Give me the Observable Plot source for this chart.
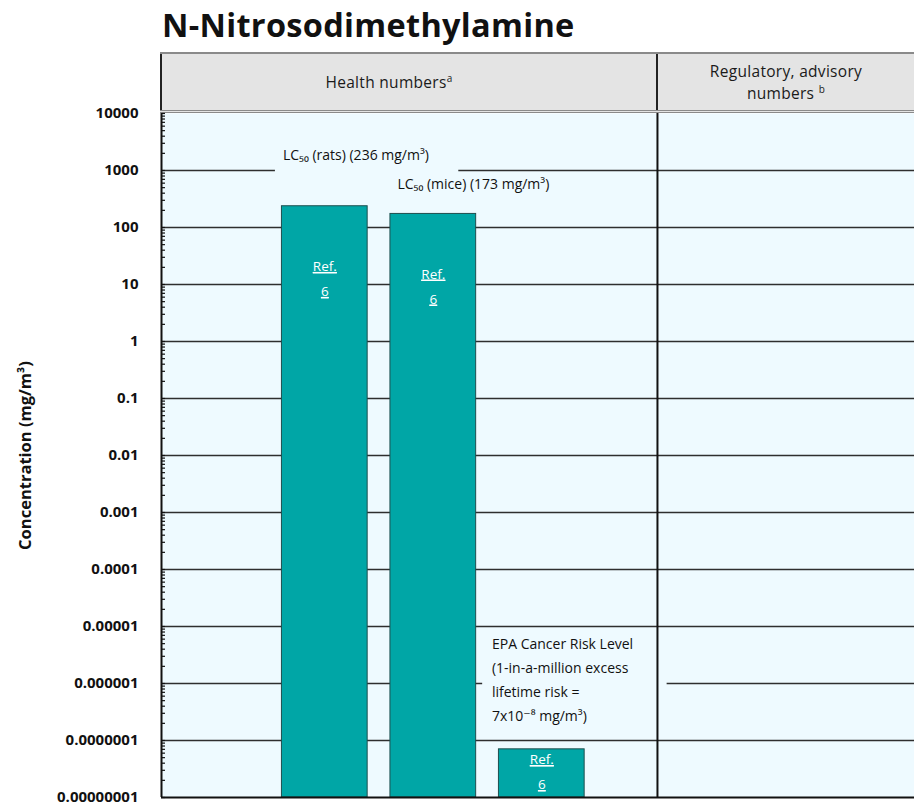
<!DOCTYPE html>
<html><head><meta charset="utf-8">
<script src="https://cdn.jsdelivr.net/npm/d3@7"></script>
<script src="https://cdn.jsdelivr.net/npm/@observablehq/plot@0.6"></script>
<style>
*{box-sizing:border-box;}
body{margin:0;background:#fff;font-family:"Open Sans","DejaVu Sans",sans-serif;}
#wrap{position:relative;width:914px;height:805px;overflow:hidden;}
#title{position:absolute;left:162px;top:2px;font-weight:700;font-size:32.5px;color:#111;white-space:nowrap;letter-spacing:0.3px;}
#header{position:absolute;left:160px;top:52px;width:754px;height:61px;background:#e4e4e4;border-top:2px solid #8a8a8a;border-bottom:3px double #8a8a8a;display:flex;}
.cell{display:flex;align-items:center;justify-content:center;text-align:center;font-size:15.5px;color:#1a1a1a;line-height:1.45;letter-spacing:0.3px;}
.cell sup{font-size:10px;vertical-align:super;line-height:0;}
#h1{width:498px;border-left:2px solid #222;border-right:2px solid #222;padding-right:40px;}
#h2{flex:1;padding:0 10px;}
#chart{position:absolute;left:0;top:113px;}
</style>
</head><body>
<div id="wrap">
  <div id="title"></div>
  <div id="header"><div class="cell" id="h1"></div><div class="cell" id="h2"></div></div>
  <div id="chart"></div>
</div>
<script>
// ---- data ----
const chartTitle = "N-Nitrosodimethylamine";
const columnHeaders = ["Health numbers", "Regulatory, advisory numbers"];
const columnNotes = ["a", "b"];
const categories = ["LC50 (rats)", "LC50 (mice)", "EPA Cancer Risk Level"];
const values = [236, 173, 7e-8];
const refLabels = ["Ref.\n6", "Ref.\n6", "Ref.\n6"];
const annotations = [
  "LC₅₀ (rats) (236 mg/m³)",
  "LC₅₀ (mice) (173 mg/m³)",
  "EPA Cancer Risk Level\n(1-in-a-million excess\nlifetime risk =\n7x10⁻⁸ mg/m³)"
];
const tickLabels = ["10000","1000","100","10","1","0.1","0.01","0.001","0.0001","0.00001","0.000001","0.0000001","0.00000001"];
const yTitle = "Concentration (mg/m³)";

// ---- layout (positions / styles) ----
const layout = {
  xMax: 6.94, divider: 4.571, barStart: 0.11, barEnd: 0.9,
  annDx: [1, 7, -7], annDy: [-54, -33, -72],
  refDyTall: 47, refDyShort: -3, minorTickPx: 4,
  backdrops: [
    {x1: 1.05, x2: 2.74, y1: 370, y2: 2750},
    {x1: 2.96, x2: 4.66, y1: 2.0e-7, y2: 7.5e-6}
  ]
};
const bg = "#eefaff";
const teal = "#00a6a6";
const W = 914, ML = 161;

document.getElementById("title").textContent = chartTitle;
document.getElementById("h1").innerHTML = "<span>" + columnHeaders[0] + "<sup>" + columnNotes[0] + "</sup></span>";
const h2words = columnHeaders[1].split(" ");
document.getElementById("h2").innerHTML = "<span>" + h2words.slice(0, 2).join(" ") + "<br>" + h2words.slice(2).join(" ") + " <sup>" + columnNotes[1] + "</sup></span>";

const tickValues = tickLabels.map(Number);
const labelOf = new Map(tickValues.map((v, i) => [v, tickLabels[i]]));
const yMin = d3.min(tickValues), yMax = d3.max(tickValues);
const gridValues = tickValues.filter(v => v !== yMin && v !== yMax);
const minorTicks = [];
for (let e = Math.round(Math.log10(yMin)); e < Math.round(Math.log10(yMax)); e++) for (let m = 1; m < 10; m++) minorTicks.push(m * Math.pow(10, e));
minorTicks.push(yMax);
const tickLenX = layout.minorTickPx * layout.xMax / (W - ML);

const bars = categories.map((c, i) => ({category: c, value: values[i], slot: i + 1, ref: refLabels[i], note: annotations[i], i}));
const tall = bars.filter(d => Math.log10(d.value / yMin) > 3);
const short = bars.filter(d => Math.log10(d.value / yMin) <= 3);

const chart = Plot.plot({
  width: W, height: 692,
  marginLeft: ML, marginRight: 0, marginTop: 0, marginBottom: 8,
  style: {fontFamily: "'Open Sans','DejaVu Sans',sans-serif", overflow: "visible", background: "transparent", color: "#111"},
  x: {domain: [0, layout.xMax], axis: null},
  y: {type: "log", domain: [yMin, yMax], axis: null},
  marks: [
    Plot.frame({fill: bg, stroke: "none"}),
    Plot.ruleY(gridValues, {stroke: "#2e2e2e", strokeWidth: 1.4}),
    Plot.rect(layout.backdrops, {x1: "x1", x2: "x2", y1: "y1", y2: "y2", fill: bg}),
    Plot.ruleX([layout.divider], {stroke: "#111", strokeWidth: 2}),
    Plot.rect(bars, {x1: d => d.slot + layout.barStart, x2: d => d.slot + layout.barEnd, y1: yMin, y2: "value", fill: teal, stroke: "#1e4e4e", strokeWidth: 1}),
    Plot.text(tall, {x: d => d.slot + (layout.barStart + layout.barEnd) / 2, y: "value", text: "ref", fill: "white", lineAnchor: "top", dy: layout.refDyTall, fontSize: 13.5, lineHeight: 1.85, ariaLabel: () => "ref-label"}),
    Plot.text(short, {x: d => d.slot + (layout.barStart + layout.barEnd) / 2, y: "value", text: "ref", fill: "white", lineAnchor: "top", dy: layout.refDyShort, fontSize: 13.5, lineHeight: 1.85, ariaLabel: () => "ref-label"}),
    ...bars.map(b => Plot.text([b], {x: d => d.slot + layout.barStart, y: "value", text: "note", textAnchor: "start", lineAnchor: "middle", dx: layout.annDx[b.i], dy: layout.annDy[b.i], fontSize: 14, lineHeight: 1.72, fill: "#111"})),
    Plot.ruleX([0], {stroke: "#111", strokeWidth: 2}),
    Plot.ruleY([yMin], {stroke: "#111", strokeWidth: 2}),
    Plot.ruleY(minorTicks, {x1: 0, x2: tickLenX, stroke: "#111", strokeWidth: 1.2}),
    Plot.axisY(tickValues, {anchor: "left", tickSize: 0, tickPadding: 23, tickFormat: d => labelOf.get(d), label: null, fontWeight: "bold", fontSize: 15, fill: "#111"}),
    Plot.text([yTitle], {text: d => d, frameAnchor: "left", textAnchor: "middle", dx: -136, rotate: -90, fontWeight: "bold", fontSize: 16.5, fill: "#111"})
  ]
});
d3.select(chart).selectAll('text[aria-label="ref-label"], text[aria-label="ref-label"] tspan, [aria-label="ref-label"] text')
  .attr("text-decoration", "underline").style("text-decoration", "underline");
document.getElementById("chart").appendChild(chart);
</script>
</body></html>
